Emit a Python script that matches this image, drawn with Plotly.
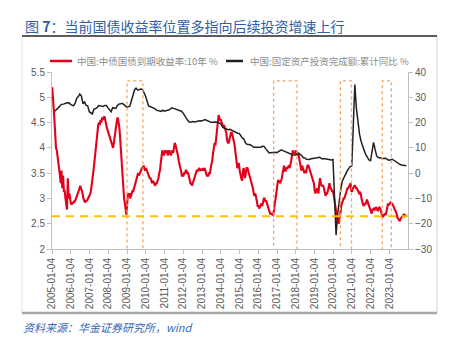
import pandas as pd
import plotly.graph_objects as go

# ---------------------------------------------------------------
# Data
# ---------------------------------------------------------------
years = list(range(2005, 2024))

# China 10Y government bond yield (%), two readings per month (mid / late)
cgb10y = [
    5.2, 5.05, 4.75, 4.5, 4.15, 4.0, 3.95, 3.85, 3.75, 3.6, 3.45, 3.3, 3.55, 3.2, 3.45, 3.15, 3.15, 3.0, 2.85, 2.78, 3.4, 3.0, 3.1, 2.95,  # 2005
    2.9, 2.88, 2.92, 2.9, 2.95, 2.93, 2.97, 3.0, 3.05, 3.1, 3.15, 3.2, 3.25, 3.2, 3.15, 3.1, 3.0, 2.95, 2.92, 2.95, 2.95, 2.97, 3.0, 3.05,  # 2006
    3.05, 3.1, 3.2, 3.3, 3.45, 3.55, 3.7, 3.85, 4.0, 4.2, 4.35, 4.45, 4.5, 4.45, 4.55, 4.5, 4.6, 4.55, 4.6, 4.62, 4.55, 4.45, 4.4, 4.35,  # 2007
    4.3, 4.25, 4.2, 4.15, 4.1, 4.05, 4.0, 4.1, 4.2, 4.35, 4.5, 4.55, 4.6, 4.5, 4.4, 4.2, 3.9, 3.6, 3.4, 3.2, 3.0, 2.9, 2.75, 2.68,  # 2008
    2.9, 3.1, 3.05, 3.1, 3.0, 3.05, 3.1, 3.15, 3.15, 3.2, 3.25, 3.3, 3.35, 3.45, 3.5, 3.45, 3.5, 3.55, 3.55, 3.6, 3.6, 3.65, 3.6, 3.55,  # 2009
    3.6, 3.55, 3.5, 3.45, 3.45, 3.4, 3.4, 3.35, 3.3, 3.35, 3.3, 3.28, 3.25, 3.3, 3.3, 3.35, 3.4, 3.5, 3.55, 3.7, 3.8, 3.95, 3.9, 3.85,  # 2010
    3.9, 3.95, 3.9, 3.95, 3.85, 3.9, 3.95, 3.9, 3.85, 3.9, 3.95, 3.9, 4.0, 4.1, 4.05, 4.0, 3.95, 3.85, 3.75, 3.65, 3.6, 3.55, 3.45, 3.45,  # 2011
    3.45, 3.5, 3.5, 3.55, 3.55, 3.5, 3.5, 3.45, 3.35, 3.3, 3.3, 3.25, 3.3, 3.35, 3.4, 3.45, 3.5, 3.55, 3.55, 3.55, 3.6, 3.55, 3.55, 3.58,  # 2012
    3.55, 3.6, 3.55, 3.6, 3.55, 3.5, 3.45, 3.45, 3.45, 3.5, 3.5, 3.6, 3.65, 3.75, 3.9, 4.0, 4.1, 4.05, 4.2, 4.35, 4.5, 4.65, 4.6, 4.55,  # 2013
    4.55, 4.5, 4.45, 4.4, 4.45, 4.4, 4.35, 4.3, 4.15, 4.1, 4.1, 4.15, 4.25, 4.3, 4.3, 4.25, 4.2, 4.1, 4.0, 3.85, 3.75, 3.6, 3.65, 3.7,  # 2014
    3.55, 3.45, 3.4, 3.35, 3.5, 3.6, 3.55, 3.4, 3.5, 3.6, 3.6, 3.55, 3.5, 3.45, 3.4, 3.35, 3.3, 3.2, 3.1, 3.05, 3.1, 3.05, 2.95, 2.85,  # 2015
    2.85, 2.8, 2.85, 2.9, 2.9, 2.85, 2.95, 3.0, 3.0, 2.95, 2.95, 2.9, 2.85, 2.8, 2.75, 2.7, 2.7, 2.68, 2.68, 2.67, 2.75, 2.9, 3.0, 3.1,  # 2016
    3.25, 3.35, 3.35, 3.3, 3.3, 3.35, 3.4, 3.5, 3.6, 3.65, 3.55, 3.55, 3.6, 3.6, 3.62, 3.65, 3.6, 3.65, 3.75, 3.85, 3.95, 3.9, 3.9, 3.9,  # 2017
    3.95, 3.9, 3.85, 3.9, 3.8, 3.75, 3.6, 3.55, 3.65, 3.6, 3.55, 3.5, 3.55, 3.5, 3.6, 3.65, 3.65, 3.6, 3.55, 3.5, 3.45, 3.4, 3.35, 3.3,  # 2018
    3.15, 3.1, 3.15, 3.2, 3.15, 3.1, 3.3, 3.4, 3.3, 3.25, 3.25, 3.25, 3.2, 3.15, 3.05, 3.1, 3.1, 3.15, 3.25, 3.3, 3.2, 3.2, 3.15, 3.15,  # 2019
    3.1, 3.0, 2.85, 2.8, 2.7, 2.6, 2.55, 2.5, 2.65, 2.7, 2.85, 2.9, 2.95, 3.0, 3.0, 3.05, 3.1, 3.15, 3.2, 3.2, 3.25, 3.3, 3.3, 3.15,  # 2020
    3.15, 3.2, 3.25, 3.25, 3.25, 3.2, 3.2, 3.15, 3.1, 3.1, 3.12, 3.1, 3.0, 2.9, 2.88, 2.85, 2.9, 2.88, 2.95, 2.98, 2.92, 2.88, 2.85, 2.78,  # 2021
    2.75, 2.7, 2.78, 2.8, 2.8, 2.78, 2.8, 2.83, 2.78, 2.75, 2.8, 2.82, 2.8, 2.75, 2.7, 2.63, 2.65, 2.7, 2.7, 2.67, 2.75, 2.85, 2.9, 2.87,  # 2022
    2.9, 2.92, 2.9, 2.9, 2.88, 2.85, 2.8, 2.78, 2.75, 2.7, 2.62, 2.6, 2.58, 2.55, 2.6, 2.62, 2.65, 2.67, 2.68, 2.65, 2.67, 2.66,  # 2023
]

# Fixed-asset investment, cumulative YoY (%), Feb..Dec of each year
fai_yoy = [
    24.5, 25.3, 25.7, 26.4, 27.1, 27.2, 27.4, 27.7, 27.6, 27.8, 27.2,  # 2005
    26.6, 27.7, 29.6, 30.3, 31.3, 30.5, 27.4, 28.2, 26.8, 26.6, 24.3,  # 2006
    23.4, 25.3, 25.5, 25.9, 26.7, 26.6, 26.7, 26.4, 26.8, 26.8, 25.8,  # 2007
    24.3, 25.9, 25.7, 25.6, 26.8, 27.3, 27.4, 27.6, 27.2, 26.8, 26.1,  # 2008
    26.5, 28.8, 30.5, 32.9, 33.6, 32.9, 33.0, 33.3, 33.1, 32.1, 30.5,  # 2009
    26.6, 26.4, 26.1, 25.9, 25.5, 24.9, 24.8, 24.5, 24.4, 24.9, 24.5,  # 2010
    24.9, 25.0, 25.4, 25.8, 25.6, 25.4, 25.0, 24.9, 24.9, 24.5, 23.8,  # 2011
    21.5, 20.9, 20.2, 20.1, 20.4, 20.4, 20.2, 20.5, 20.7, 20.7, 20.6,  # 2012
    21.2, 20.9, 20.6, 20.4, 20.1, 20.1, 20.3, 20.2, 20.1, 19.9, 19.6,  # 2013
    17.9, 17.6, 17.3, 17.2, 17.3, 17.0, 16.5, 16.1, 15.9, 15.8, 15.7,  # 2014
    13.9, 13.5, 12.0, 11.4, 11.4, 11.2, 10.9, 10.3, 10.2, 10.2, 10.0,  # 2015
    10.2, 10.7, 10.5, 9.6, 9.0, 8.1, 8.1, 8.2, 8.3, 8.3, 8.1,  # 2016
    8.9, 9.2, 8.9, 8.6, 8.6, 8.3, 7.8, 7.5, 7.3, 7.2, 7.2,  # 2017
    7.9, 7.5, 7.0, 6.1, 6.0, 5.5, 5.3, 5.4, 5.7, 5.9, 5.9,  # 2018
    6.1, 6.3, 6.1, 5.6, 5.8, 5.7, 5.5, 5.4, 5.2, 5.2, 5.4,  # 2019
    -24.5, -16.1, -10.3, -6.3, -3.1, -1.6, -0.3, 0.8, 1.8, 2.6, 2.9,  # 2020
    35.0, 25.6, 19.9, 15.4, 12.6, 10.3, 8.9, 7.3, 6.1, 5.2, 4.9,  # 2021
    12.2, 9.3, 6.8, 6.2, 6.1, 5.7, 5.8, 5.9, 5.8, 5.3, 5.1,  # 2022
    5.5, 5.1, 4.7, 4.0, 3.8, 3.4, 3.2, 3.1, 2.9, 2.9,  # 2023
]

yield_dates = [pd.Timestamp(y, m, d) for y in years for m in range(1, 13) for d in (8, 23)][:len(cgb10y)]
fai_dates = [pd.Timestamp(y, m, 1) + pd.offsets.MonthEnd(0) for y in years for m in range(2, 13)][:len(fai_yoy)]

# Periods highlighted with dotted boxes, and the yield reference level
highlight_periods = [
    ("2009-01-04", "2009-11-10"),
    ("2016-10-30", "2018-01-28"),
    ("2020-05-22", "2020-12-25"),
    ("2022-08-17", "2023-02-10"),
]
yield_floor = 2.65

name_yield = "中国:中债国债到期收益率:10年 %"
name_fai = "中国:固定资产投资完成额:累计同比 %"
title_text = "图 <b>7</b>：当前国债收益率位置多指向后续投资增速上行"
source_text = "<i>资料来源：华金证券研究所，wind</i>"

# ---------------------------------------------------------------
# Figure
# ---------------------------------------------------------------
W, H = 453, 340
ML, MR, MT, MB = 52, 45, 72, 91
PW, PH = W - ML - MR, H - MT - MB


def px(x):
    return (x - ML) / PW


def py(y):
    return (H - MB - y) / PH


RED = "#E3001B"
BLACK = "#231F20"
AXIS = "#BFBFBF"
TICKTXT = "#595959"
BLUE = "#2F5EA8"
CJK = "Noto Sans CJK SC, Liberation Sans, Arial, sans-serif"
LAT = "Liberation Sans, Arial, sans-serif"

fig = go.Figure()
fig.add_trace(go.Scatter(
    x=yield_dates, y=cgb10y, mode="lines", name=name_yield,
    line=dict(color=RED, width=2.1), yaxis="y",
))
fig.add_trace(go.Scatter(
    x=fai_dates, y=fai_yoy, mode="lines", name=name_fai,
    line=dict(color=BLACK, width=1.5), yaxis="y2",
))

shapes = []
for start, end in highlight_periods:
    shapes.append(dict(
        type="rect", xref="x", yref="y2", x0=start, x1=end, y0=-30.5, y1=36.5,
        line=dict(color="#F4A460", width=1.3, dash="dot"), fillcolor="rgba(0,0,0,0)",
        layer="above",
    ))
shapes.append(dict(
    type="line", xref="paper", yref="y", x0=0, x1=1, y0=yield_floor, y1=yield_floor,
    line=dict(color="#FFC000", width=2, dash="8px,6px"), layer="above",
))

# chart frame
fx0, fx1, fy0, fy1 = px(22), px(437), py(313), py(36)
shapes += [
    dict(type="line", xref="paper", yref="paper", x0=fx0, x1=fx0, y0=fy0, y1=fy1,
         line=dict(color="#E3E3E3", width=1)),
    dict(type="line", xref="paper", yref="paper", x0=fx1, x1=fx1, y0=fy0, y1=fy1,
         line=dict(color="#CFCFCF", width=1)),
    dict(type="line", xref="paper", yref="paper", x0=fx0, x1=fx1, y0=fy0, y1=fy0,
         line=dict(color="#A6A6A6", width=2.5)),
    dict(type="line", xref="paper", yref="paper", x0=fx0, x1=fx1, y0=fy1, y1=fy1,
         line=dict(color="#262626", width=1.5)),
]

# legend swatches
ly = py(61)
shapes += [
    dict(type="line", xref="paper", yref="paper", x0=px(50), x1=px(72), y0=ly, y1=ly,
         line=dict(color=RED, width=2.5)),
    dict(type="line", xref="paper", yref="paper", x0=px(226), x1=px(243), y0=ly, y1=ly,
         line=dict(color=BLACK, width=2.5)),
]

annotations = [
    dict(text=name_yield, xref="paper", yref="paper", x=px(75), y=ly, xanchor="left",
         yanchor="middle", showarrow=False, font=dict(family=CJK, size=9.5, color="#8C8C8C")),
    dict(text=name_fai, xref="paper", yref="paper", x=px(248), y=ly, xanchor="left",
         yanchor="middle", showarrow=False, font=dict(family=CJK, size=9.5, color="#8C8C8C")),
    dict(text=title_text, xref="paper", yref="paper", x=px(23), y=py(26), xanchor="left",
         yanchor="middle", showarrow=False, font=dict(family=CJK, size=14, color=BLUE)),
    dict(text=source_text, xref="paper", yref="paper", x=px(21), y=py(327), xanchor="left",
         yanchor="middle", showarrow=False, font=dict(family=CJK, size=11, color="#3A66B0")),
]

axis_common = dict(
    showgrid=False, zeroline=False, showline=True, linecolor=AXIS, linewidth=1,
    ticks="outside", ticklen=4, tickcolor=AXIS, tickwidth=1,
    tickfont=dict(family=LAT, size=10, color=TICKTXT),
)

fig.update_layout(
    width=W, height=H,
    margin=dict(l=ML, r=MR, t=MT, b=MB, pad=0),
    paper_bgcolor="white", plot_bgcolor="white",
    showlegend=False,
    xaxis=dict(
        type="date", range=["2005-01-04", "2023-12-31"],
        tick0="2005-01-04", dtick="M12", tickformat="%Y-%m-%d", tickangle=-90,
        **axis_common,
    ),
    yaxis=dict(range=[2, 5.5], dtick=0.5, **axis_common),
    yaxis2=dict(range=[-30, 40], dtick=10, overlaying="y", side="right", **axis_common),
    shapes=shapes,
    annotations=annotations,
)

fig.write_html("out.html")
